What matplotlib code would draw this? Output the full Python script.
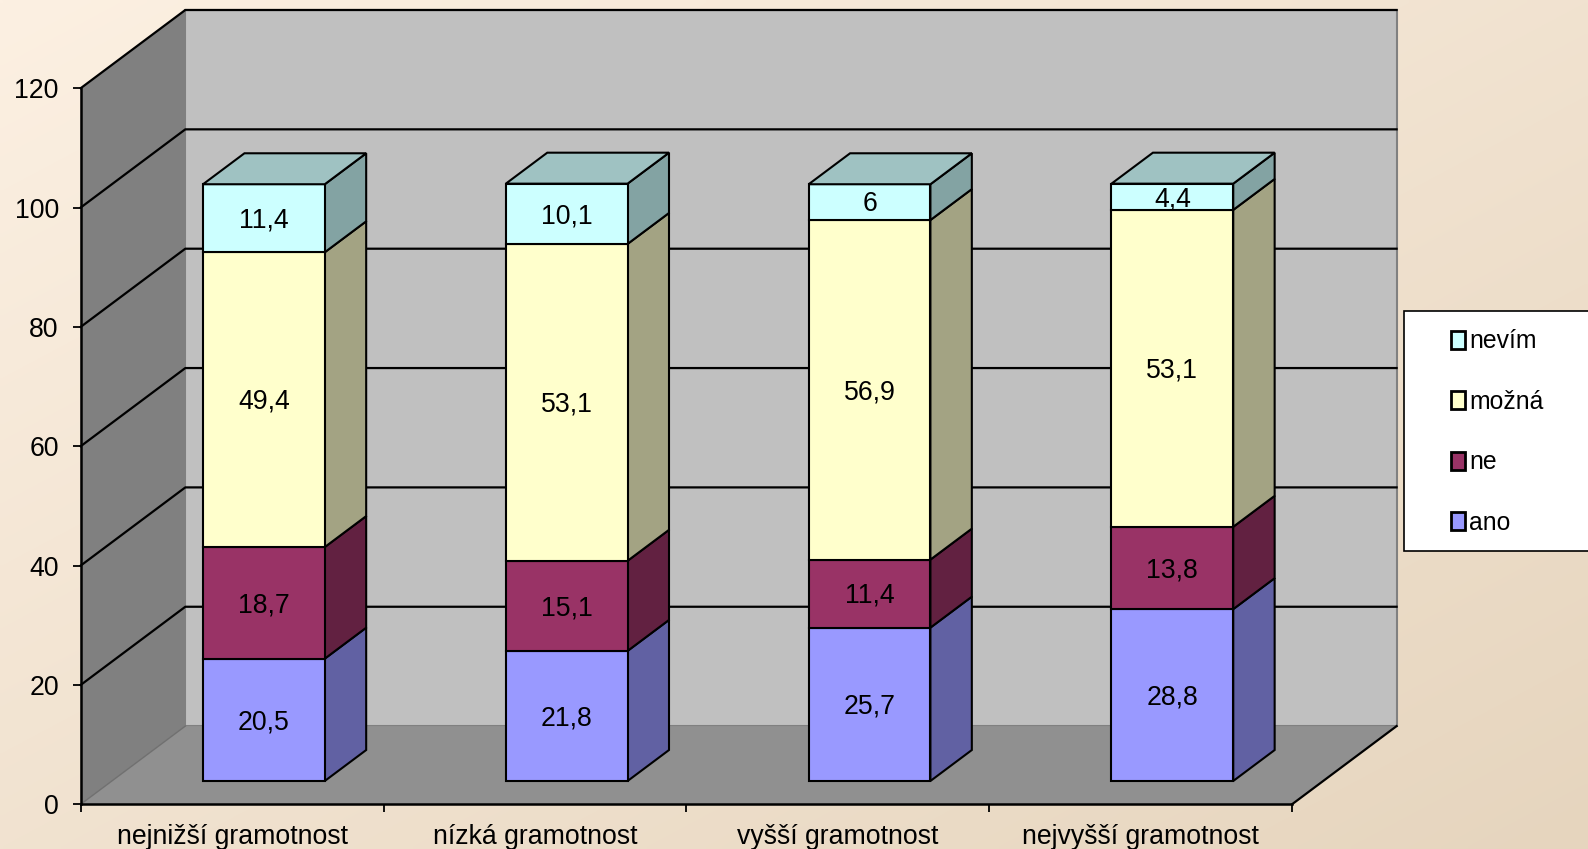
import numpy as np
import matplotlib
matplotlib.use('Agg')
import matplotlib.pyplot as plt
from matplotlib.patches import Polygon, Rectangle, Patch

plt.rcParams['font.family'] = ['Liberation Sans', 'DejaVu Sans']

# Data
categories = ['nejnižší gramotnost', 'nízká gramotnost', 'vyšší gramotnost', 'nejvyšší gramotnost']
series_names = ['ano', 'ne', 'možná', 'nevím']
ano = [20.5, 21.8, 25.7, 28.8]
ne = [18.7, 15.1, 11.4, 13.8]
mozna = [49.4, 53.1, 56.9, 53.1]
nevim = [11.4, 10.1, 6, 4.4]
y_ticks = [0, 20, 40, 60, 80, 100, 120]

front_colors = ['#9999FF', '#993366', '#FFFFCC', '#CCFFFF']
side_colors = ['#6161A3', '#622141', '#A3A383', '#83A3A3']
top_color = '#9FC2C2'

W, H = 1588, 849
FS = 19.2
LEGEND_FS = 17.8

# pixel geometry of the front plane of the box
left, right, bottom, top = 80.7, 1292.0, 804.3, 88.2
# depth of the whole box in data units
dx = 104.6 / ((right - left) / 4)
dy = 78.2 / ((bottom - top) / 120)
bar_w = 0.402
bar_shift = 0.002
z_front, z_back = 0.298, 0.694


def project(x, y, z):
    """Shift a data point (x, y) back by depth z (0 front, 1 back wall)."""
    return (x + z * dx, y + z * dy)


def quad(ax, pts, **kw):
    ax.add_patch(Polygon(pts, closed=True, clip_on=False, **kw))


fig = plt.figure(figsize=(W / 100, H / 100), dpi=100)

# Background gradient
bg = fig.add_axes([0, 0, 1, 1], zorder=0)
xx, yy = np.meshgrid(np.linspace(0, 1, 300), np.linspace(0, 1, 160))
t = (xx + yy) / 2
c0 = np.array([0xFC, 0xF0, 0xE2]) / 255
c1 = np.array([0xE6, 0xD5, 0xBE]) / 255
bg.imshow(c0 + (c1 - c0) * t[..., None], aspect='auto', interpolation='bilinear')
bg.axis('off')

ax = fig.add_axes([left / W, 1 - bottom / H, (right - left) / W, (bottom - top) / H], zorder=1)
ax.patch.set_visible(False)
ax.set_xlim(0, 4)
ax.set_ylim(0, 120)

# Walls and floor
quad(ax, [project(0, 0, 1), project(4, 0, 1), project(4, 120, 1), project(0, 120, 1)],
     facecolor='#C0C0C0', edgecolor='#808080', linewidth=1.5, zorder=1)
quad(ax, [project(0, 0, 0), project(0, 0, 1), project(0, 120, 1), project(0, 120, 0)],
     facecolor='#808080', edgecolor='none', zorder=1)
quad(ax, [project(0, 0, 0), project(4, 0, 0), project(4, 0, 1), project(0, 0, 1)],
     facecolor='#909090', edgecolor='none', zorder=1)

# Gridlines along left wall and back wall
for v in y_ticks:
    pts = np.array([project(0, v, 0), project(0, v, 1), project(4, v, 1)])
    if v == 0:
        ax.plot(pts[:2, 0], pts[:2, 1], color='#707070', lw=1, clip_on=False, zorder=2)
    else:
        ax.plot(pts[:, 0], pts[:, 1], color='black', lw=1.6, clip_on=False, zorder=2)
floor_edge = np.array([project(4, 0, 0), project(4, 0, 1)])
ax.plot(floor_edge[:, 0], floor_edge[:, 1], color='black', lw=1.6, clip_on=False, zorder=2)

# Stacked 3D bars
series = [ano, ne, mozna, nevim]
base = np.zeros(len(categories))
for vals, front, side in zip(series, front_colors, side_colors):
    for i, v in enumerate(vals):
        xc = i + 0.5 + bar_shift
        x0 = xc - bar_w / 2
        x1 = xc + bar_w / 2
        b = base[i]
        fx, fy = project(x0, b, z_front)
        quad(ax, [project(x1, b, z_front), project(x1, b, z_back),
                  project(x1, b + v, z_back), project(x1, b + v, z_front)],
             facecolor=side, edgecolor='black', linewidth=1.5, zorder=3)
        ax.bar(fx, v, width=bar_w, bottom=fy, align='edge', color=front, edgecolor='black',
               linewidth=1.5, zorder=4, clip_on=False)
        cx, cy = project(xc, b + v / 2, z_front)
        # labels sit a touch under the middle of the segment
        ax.annotate(str(v).replace('.', ','), (cx, cy), xytext=(0, -1.6), textcoords='offset points',
                    ha='center', va='center', fontsize=FS, zorder=6, annotation_clip=False)
    base = base + np.array(vals)

# Lids of the bars
for i, total in enumerate(base):
    xc = i + 0.5 + bar_shift
    x0 = xc - bar_w / 2
    x1 = xc + bar_w / 2
    quad(ax, [project(x0, total, z_front), project(x1, total, z_front),
              project(x1, total, z_back), project(x0, total, z_back)],
         facecolor=top_color, edgecolor='black', linewidth=1.5, zorder=5)

# Axes
for s in ['top', 'right']:
    ax.spines[s].set_visible(False)
for s in ['left', 'bottom']:
    ax.spines[s].set_linewidth(1.8)
    ax.spines[s].set_zorder(7)
ax.set_yticks(y_ticks)
ax.tick_params(axis='y', labelsize=FS, length=8 * 0.72, width=1.3, pad=10)
ax.set_xticks(range(5))
ax.set_xticklabels([])
ax.set_xticks(np.arange(4) + 0.5, minor=True)
ax.set_xticklabels(categories, minor=True, fontsize=FS)
ax.tick_params(axis='x', which='major', length=8 * 0.72, width=1.3)
ax.tick_params(axis='x', which='minor', length=0, pad=14)

# Legend box runs off the right edge of the figure
fig.add_artist(Rectangle((1404.3 / W, 1 - 550.7 / H), 200 / W, 240 / H, transform=fig.transFigure,
                         facecolor='white', edgecolor='black', linewidth=1.2, zorder=2))
handles = [Patch(facecolor=c, edgecolor='black', linewidth=2, label=n)
           for c, n in zip(front_colors[::-1], series_names[::-1])]
fig.legend(handles=handles, loc='upper left', bbox_to_anchor=(1444 / W, 1 - 322 / H),
           frameon=False, fontsize=LEGEND_FS, handlelength=0.53, handleheight=0.75,
           handletextpad=0.2, labelspacing=1.477, borderpad=0.3, borderaxespad=0)

fig.savefig('out.png', dpi=100)
